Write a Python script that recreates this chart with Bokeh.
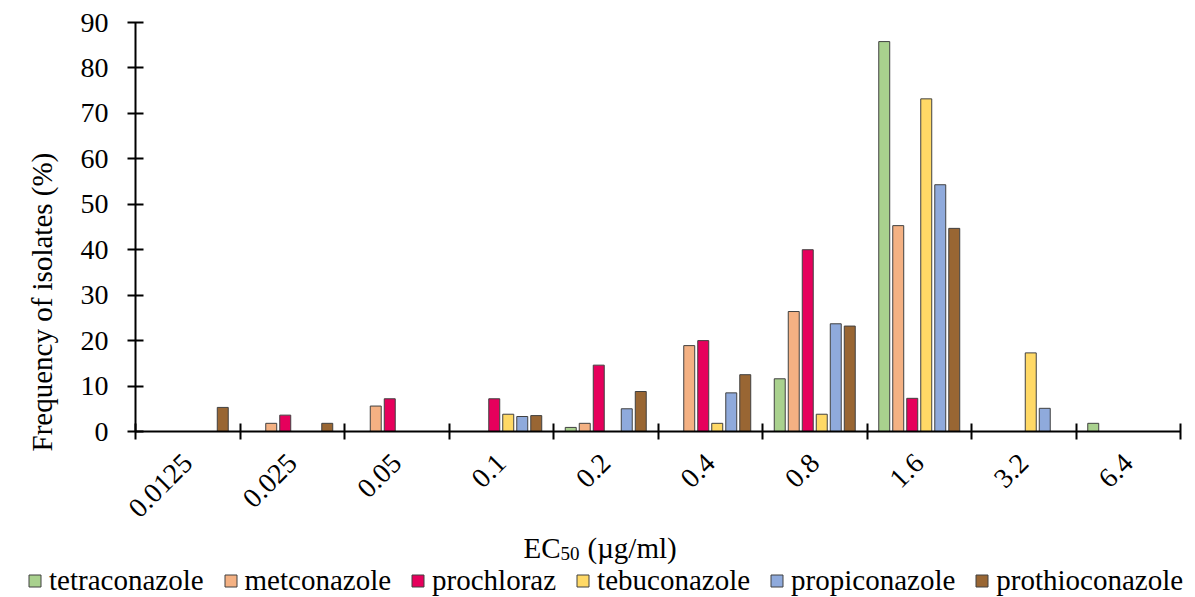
import math
from bokeh.plotting import figure
from bokeh.layouts import column, row
from bokeh.models import (Range1d, LinearAxis, FixedTicker, Title,
                          ColumnDataSource, Legend, LegendItem, Label)
from bokeh.transform import dodge
from bokeh.embed import file_html
from bokeh.resources import INLINE

# ---------------- data ----------------
categories = ["0.0125", "0.025", "0.05", "0.1", "0.2", "0.4", "0.8", "1.6", "3.2", "6.4"]
series_names = ["tetraconazole", "metconazole", "prochloraz", "tebuconazole",
                "propiconazole", "prothioconazole"]
tetraconazole = [0, 0, 0, 0, 0.9, 0, 11.6, 85.8, 0, 1.8]
metconazole = [0, 1.8, 5.6, 0, 1.8, 18.9, 26.4, 45.3, 0, 0]
prochloraz = [0, 3.6, 7.2, 7.2, 14.6, 20.0, 40.0, 7.3, 0, 0]
tebuconazole = [0, 0, 0, 3.8, 0, 1.8, 3.8, 73.2, 17.3, 0]
propiconazole = [0, 0, 0, 3.3, 5.0, 8.5, 23.7, 54.3, 5.1, 0]
prothioconazole = [5.3, 1.8, 0, 3.5, 8.8, 12.5, 23.2, 44.7, 0, 0]
y_ticks = [0, 10, 20, 30, 40, 50, 60, 70, 80, 90]
colors = ["#A9D18E", "#F4B183", "#E6005C", "#FFD966", "#8FAADC", "#996633"]
y_title = "Frequency of isolates (%)"
x_title = ["EC", "50", "(µg/ml)"]

series_values = [tetraconazole, metconazole, prochloraz, tebuconazole,
                 propiconazole, prothioconazole]

FONT = "Liberation Serif"
ncat = len(categories)
n = len(series_names)
step = 0.134

# ---------------- main chart ----------------
p = figure(width=1195, height=528,
           x_range=Range1d(-0.5, ncat - 0.5),
           y_range=Range1d(0, 90),
           x_axis_type=None, y_axis_type=None,
           output_backend="svg", toolbar_location=None,
           min_border_left=135, min_border_right=15, min_border_top=22, min_border_bottom=96)
p.outline_line_color = None
p.xgrid.visible = False
p.ygrid.visible = False

yaxis = LinearAxis(ticker=FixedTicker(ticks=y_ticks))
yaxis.major_tick_in = 8
yaxis.major_tick_out = 8
yaxis.minor_tick_line_color = None
yaxis.axis_line_width = 2
yaxis.major_tick_line_width = 2
yaxis.axis_line_color = "black"
yaxis.major_tick_line_color = "black"
yaxis.major_label_text_font = FONT
yaxis.major_label_text_font_size = "28px"
yaxis.major_label_text_color = "black"
yaxis.major_label_standoff = 19
p.add_layout(yaxis, "left")

ytitle = Title(text=y_title, align="left", offset=-20,
               text_font=FONT, text_font_size="29px", text_font_style="normal",
               text_color="black", standoff=40)
p.add_layout(ytitle, "left")

xaxis = LinearAxis(ticker=FixedTicker(ticks=list(range(ncat)),
                                      minor_ticks=[i - 0.5 for i in range(ncat + 1)]))
xaxis.major_label_overrides = {i: c for i, c in enumerate(categories)}
xaxis.axis_line_width = 2
xaxis.axis_line_color = "black"
xaxis.major_tick_line_color = None
xaxis.major_tick_out = 0
xaxis.major_tick_in = 0
xaxis.minor_tick_line_color = "black"
xaxis.minor_tick_line_width = 2
xaxis.minor_tick_in = 8
xaxis.minor_tick_out = 8
xaxis.major_label_orientation = math.pi / 4
xaxis.major_label_text_font = FONT
xaxis.major_label_text_font_size = "28px"
xaxis.major_label_text_color = "black"
xaxis.major_label_standoff = 19
p.add_layout(xaxis, "below")

for j, (name, vals, col) in enumerate(zip(series_names, series_values, colors)):
    pos = [i for i, v in enumerate(vals) if v > 0]
    tops = [v for v in vals if v > 0]
    src = ColumnDataSource(dict(pos=pos, top=tops))
    p.vbar(x=dodge("pos", (j - (n - 1) / 2) * step), top="top",
           width=0.105, source=src, fill_color=col, line_color="#404040", line_width=1)

# ---------------- x title + legend strip ----------------
bottom = figure(width=1195, height=69, x_range=Range1d(0, 1), y_range=Range1d(0, 1),
                x_axis_type=None, y_axis_type=None, output_backend="svg",
                toolbar_location=None, min_border=0)
bottom.outline_line_color = None
bottom.xgrid.visible = False
bottom.ygrid.visible = False

bottom.add_layout(Label(x=560, y=50, x_units="screen", y_units="screen", text=x_title[0],
                        text_align="right", text_baseline="alphabetic",
                        text_font=FONT, text_font_size="29px", text_color="black"))
bottom.add_layout(Label(x=560, y=44, x_units="screen", y_units="screen", text=x_title[1],
                        text_align="left", text_baseline="alphabetic",
                        text_font=FONT, text_font_size="19px", text_color="black"))
bottom.add_layout(Label(x=587, y=50, x_units="screen", y_units="screen", text=x_title[2],
                        text_align="left", text_baseline="alphabetic",
                        text_font=FONT, text_font_size="29px", text_color="black"))

# legend proxies (kept outside the visible range of this strip)
items = []
for name, col in zip(series_names, colors):
    r = bottom.vbar(x=[-1], top=[-1], width=0.1, fill_color=col,
                    line_color="#404040", line_width=1)
    items.append(LegendItem(label=name, renderers=[r]))

legend = Legend(items=items, orientation="horizontal", location=(27, 0))
legend.label_text_font = FONT
legend.label_text_font_size = "29px"
legend.label_text_color = "black"
legend.glyph_width = 15
legend.glyph_height = 15
legend.label_standoff = 7
legend.spacing = 19
legend.padding = 2
legend.margin = 0
legend.border_line_color = None
legend.background_fill_alpha = 0
bottom.add_layout(legend, "center")

layout = column(row(p, spacing=0), bottom, spacing=0)
open("out.html", "w").write(file_html(layout, INLINE))
